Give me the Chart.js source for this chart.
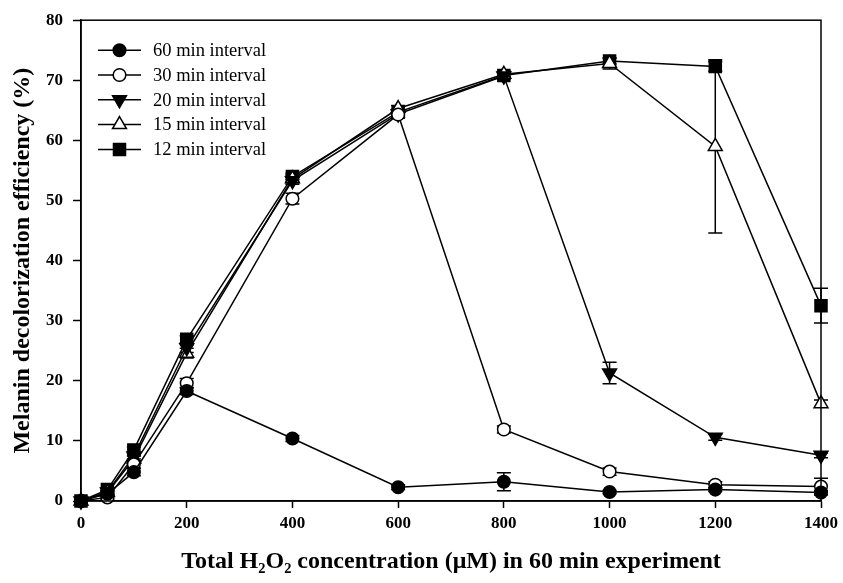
<!DOCTYPE html>
<html>
<head>
<meta charset="utf-8">
<script src="https://cdn.jsdelivr.net/npm/chart.js@4/dist/chart.umd.min.js"></script>
<style>
  html, body { margin: 0; padding: 0; background: #fff; }
</style>
</head>
<body>
<canvas id="myChart" width="843" height="583"></canvas>
<script>
// H2O2 concentration (uM)
const concentrations = [0, 50, 100, 200, 400, 600, 800, 1000, 1200, 1400];

const labels = ['60 min interval', '30 min interval', '20 min interval', '15 min interval', '12 min interval'];

// decolorization efficiency (%)
const int60 = [0, 1.2, 4.8, 18.3, 10.4, 2.3, 3.2, 1.5, 1.9, 1.4];
const int30 = [0, 0.6, 6.1, 19.6, 50.3, 64.3, 11.9, 4.9, 2.7, 2.4];
const int20 = [0, 1.5, 7.5, 25.5, 53.3, 64.4, 70.7, 21.3, 10.6, 7.6];
const int15 = [0, 1.4, 7.0, 24.6, 53.6, 65.3, 71.0, 72.8, 59.0, 16.2];
const int12 = [0, 1.9, 8.5, 26.9, 54.0, 64.7, 70.8, 73.2, 72.3, 32.5];

// standard deviations
const err60 = [0, 0.3, 0.6, 0.6, 0.5, 0.4, 1.5, 0.3, 0.3, 0.3];
const err30 = [0, 0.3, 0.6, 0.8, 0.9, 0.5, 0.6, 0.6, 0.5, 1.4];
const err20 = [0, 0.3, 0.5, 0.8, 0.6, 0.5, 0.5, 1.8, 0.5, 0.4];
const err15 = [0, 0.3, 0.5, 0.8, 0.6, 0.5, 0.5, 0.9, 14.4, 0.6];
const err12 = [0, 0.3, 0.5, 0.6, 0.5, 0.5, 0.5, 0.5, 0.8, 2.9];

const xTicks = [0, 200, 400, 600, 800, 1000, 1200, 1400];
const yTicks = [0, 10, 20, 30, 40, 50, 60, 70, 80];

const pts = (vals) => concentrations.map((c, i) => ({ x: c, y: vals[i] }));

function series(label, vals, errs, style, fill, radius, rot) {
  return {
    label: label,
    data: pts(vals),
    errors: errs,
    borderColor: '#000',
    borderWidth: 1.5,
    pointStyle: style,
    pointRadius: radius,
    pointHoverRadius: radius,
    pointRotation: rot || 0,
    pointBackgroundColor: fill,
    pointBorderColor: '#000',
    pointBorderWidth: 1.5,
    tension: 0,
    clip: false
  };
}

const data = {
  datasets: [
    series(labels[0], int60, err60, 'circle', '#000', 6.3),
    series(labels[1], int30, err30, 'circle', '#fff', 6.3),
    series(labels[2], int20, err20, 'triangle', '#000', 8, 180),
    series(labels[3], int15, err15, 'triangle', '#fff', 8),
    series(labels[4], int12, err12, 'rect', '#000', 8.5),
  ]
};

const errorBars = {
  id: 'errorBars',
  beforeDatasetsDraw(chart) {
    const { ctx } = chart;
    const sx = chart.scales.x, sy = chart.scales.y;
    ctx.save();
    ctx.strokeStyle = '#000';
    ctx.lineWidth = 1.5;
    chart.data.datasets.forEach((ds) => {
      ds.errors.forEach((e, i) => {
        if (!e) return;
        const px = sx.getPixelForValue(ds.data[i].x);
        const top = sy.getPixelForValue(ds.data[i].y + e);
        const bot = sy.getPixelForValue(ds.data[i].y - e);
        ctx.beginPath();
        ctx.moveTo(px, top); ctx.lineTo(px, bot);
        ctx.moveTo(px - 7, top); ctx.lineTo(px + 7, top);
        ctx.moveTo(px - 7, bot); ctx.lineTo(px + 7, bot);
        ctx.stroke();
      });
    });
    ctx.restore();
  }
};

// legend inside the plot, line through the marker like the original
const insideLegend = {
  id: 'insideLegend',
  afterDraw(chart) {
    const { ctx, chartArea } = chart;
    ctx.save();
    chart.data.datasets.forEach((ds, i) => {
      const y = chartArea.top + 30 + i * 24.8;
      const x0 = chartArea.left + 17;
      ctx.strokeStyle = '#000';
      ctx.lineWidth = 1.5;
      ctx.beginPath();
      ctx.moveTo(x0, y); ctx.lineTo(x0 + 43, y);
      ctx.stroke();
      ctx.fillStyle = ds.pointBackgroundColor;
      Chart.helpers.drawPoint(ctx, {
        pointStyle: ds.pointStyle,
        rotation: ds.pointRotation,
        radius: ds.pointRadius,
        borderWidth: 1.5
      }, x0 + 21.5, y);
      ctx.fillStyle = '#000';
      ctx.font = '18.5px "Liberation Serif"';
      ctx.textBaseline = 'middle';
      ctx.textAlign = 'left';
      ctx.fillText(ds.label, x0 + 55, y + 1);
    });
    ctx.restore();
  }
};

const frame = {
  id: 'frame',
  afterDraw(chart) {
    const { ctx, chartArea: a } = chart;
    ctx.save();
    ctx.strokeStyle = '#000';
    ctx.lineWidth = 1.5;
    ctx.strokeRect(a.left, a.top, a.right - a.left, a.bottom - a.top);
    ctx.restore();
  }
};

const tickFont = { family: 'Liberation Serif', size: 17, weight: 'bold' };
const titleFont = { family: 'Liberation Serif', size: 24, weight: 'bold' };

const config = {
  type: 'line',
  data,
  options: {
    responsive: false,
    animation: false,
    layout: { padding: { top: 19, right: 22, left: 0, bottom: 0 } },
    plugins: { legend: { display: false }, tooltip: { enabled: false } },
    scales: {
      x: {
        type: 'linear',
        min: 0, max: 1400,
        afterBuildTicks: (s) => { s.ticks = xTicks.map(v => ({ value: v })); },
        afterFit: (s) => { s.height = 82; },
        grid: { drawOnChartArea: false, drawTicks: true, tickLength: 7, color: '#000', tickWidth: 1.5 },
        border: { display: true, color: '#000', width: 1.5 },
        ticks: { color: '#000', font: tickFont, padding: 5, maxRotation: 0, autoSkip: false,
                 callback: (v) => String(v) },
        title: {
          display: true,
          text: 'Total H₂O₂ concentration (μM) in 60 min experiment',
          color: '#000', font: titleFont, padding: { top: 0, bottom: 7 }
        }
      },
      y: {
        min: 0, max: 80,
        afterBuildTicks: (s) => { s.ticks = yTicks.map(v => ({ value: v })); },
        afterFit: (s) => { s.width = 81; },
        grid: { drawOnChartArea: false, drawTicks: true, tickLength: 8, color: '#000', tickWidth: 1.5 },
        border: { display: true, color: '#000', width: 1.5 },
        ticks: { color: '#000', font: tickFont, padding: 10, autoSkip: false,
                 callback: (v) => String(v) },
        title: {
          display: true,
          text: 'Melanin decolorization efficiency (%)',
          color: '#000', font: titleFont, padding: { top: 8, bottom: 0 }
        }
      }
    }
  },
  plugins: [errorBars, insideLegend, frame]
};

const myChart = new Chart(document.getElementById('myChart'), config);
</script>
</body>
</html>
